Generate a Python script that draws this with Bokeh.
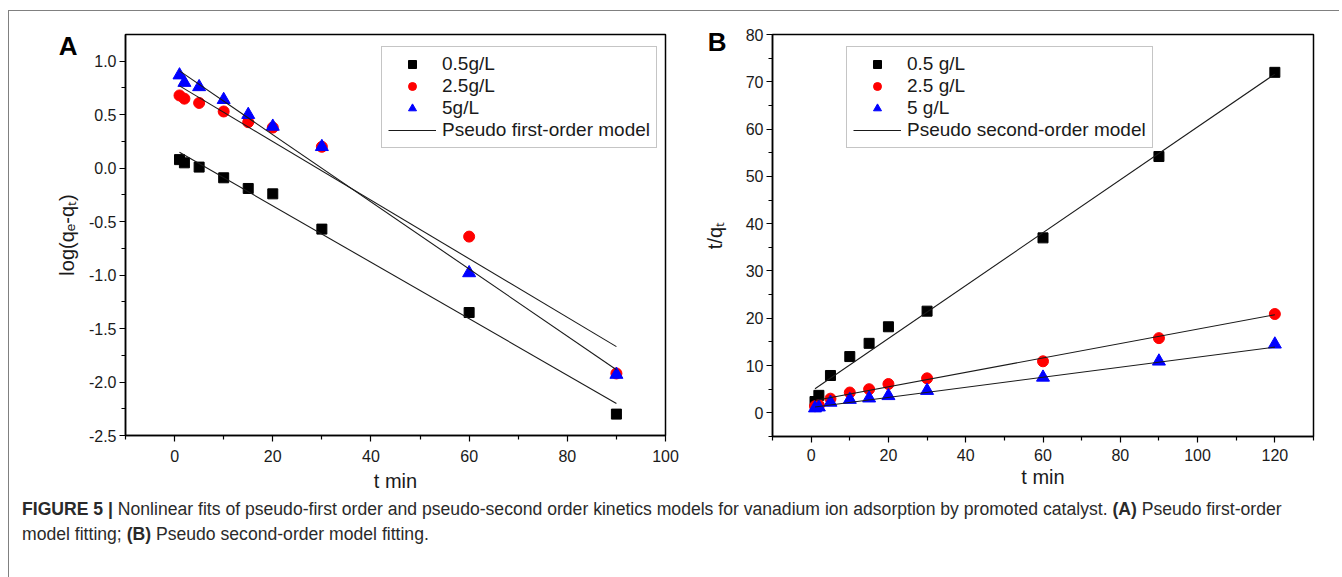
from bokeh.plotting import figure
from bokeh.models import (FixedTicker, Legend, LegendItem, Div, LinearAxis,
                          NumeralTickFormatter, CustomJSTickFormatter)
from bokeh.layouts import column, row
from bokeh.embed import file_html
from bokeh.resources import INLINE

# ---------------- data ----------------
t_a = [1, 2, 5, 10, 15, 20, 30, 60, 90]
a_05 = [0.08, 0.05, 0.01, -0.09, -0.19, -0.24, -0.57, -1.35, -2.30]
a_25 = [0.68, 0.65, 0.61, 0.53, 0.43, 0.38, 0.20, -0.64, -1.92]
a_5 = [0.87, 0.80, 0.76, 0.64, 0.50, 0.39, 0.20, -0.98, -1.93]
# pseudo first-order linear fits (slope, intercept)
fit_a_05 = (-0.0264, 0.176)
fit_a_25 = (-0.0274, 0.797)
fit_a_5 = (-0.0314, 0.941)

t_b = [1, 2, 5, 10, 15, 20, 30, 60, 90, 120]
b_05 = [2.4, 3.7, 7.9, 11.9, 14.7, 18.2, 21.5, 37.0, 54.2, 72.0]
b_25 = [1.4, 1.6, 3.0, 4.3, 5.0, 6.1, 7.3, 10.9, 15.8, 20.9]
b_5 = [1.0, 1.2, 2.2, 2.8, 3.1, 3.6, 4.7, 7.5, 10.9, 14.5]
# pseudo second-order linear fits (slope, intercept)
fit_b_05 = (0.559, 4.55)
fit_b_25 = (0.1525, 2.45)
fit_b_5 = (0.1063, 1.14)

labels_a = ["0.5g/L", "2.5g/L", "5g/L", "Pseudo first-order model"]
labels_b = ["0.5 g/L", "2.5 g/L", "5 g/L", "Pseudo second-order model"]

xticks_a = [0, 20, 40, 60, 80, 100]
xminor_a = [-10, 10, 30, 50, 70, 90]
yticks_a = [-2.5, -2.0, -1.5, -1.0, -0.5, 0.0, 0.5, 1.0]
yminor_a = [-2.25, -1.75, -1.25, -0.75, -0.25, 0.25, 0.75]
xticks_b = [0, 20, 40, 60, 80, 100, 120]
xminor_b = [-10, 10, 30, 50, 70, 90, 110, 130]
yticks_b = [0, 10, 20, 30, 40, 50, 60, 70, 80]
yminor_b = [-5, 5, 15, 25, 35, 45, 55, 65, 75]

FONT = "Liberation Sans"
RED = "#ff0000"
BLUE = "#0000ff"


def fit_line(tt, fit):
    xs = [tt[0], tt[-1]]
    ys = [fit[0] * x + fit[1] for x in xs]
    return xs, ys


def style(p, xt, xm, yt, ym, xlabel, ylabel, ylab_standoff, xlab_std, xtick_std):
    p.outline_line_color = "black"
    p.outline_line_width = 1.5
    p.outline_line_alpha = 1
    p.grid.visible = False
    p.background_fill_color = "white"
    p.border_fill_color = "white"
    for ax in (p.xaxis[0], p.yaxis[0]):
        ax.axis_line_width = 1.5
        ax.axis_line_color = "black"
        ax.major_tick_line_color = "black"
        ax.minor_tick_line_color = "black"
        ax.major_tick_line_width = 1.2
        ax.minor_tick_line_width = 1.2
        ax.major_tick_out = 6
        ax.major_tick_in = 0
        ax.minor_tick_out = 4
        ax.minor_tick_in = 0
        ax.major_label_text_font = FONT
        ax.major_label_text_font_size = "16px"
        ax.major_label_text_color = "#1a1a1a"
        ax.axis_label_text_font = FONT
        ax.axis_label_text_font_size = "20px"
        ax.axis_label_text_font_style = "normal"
        ax.axis_label_text_color = "#1a1a1a"
    p.xaxis[0].ticker = FixedTicker(ticks=xt, minor_ticks=xm)
    p.yaxis[0].ticker = FixedTicker(ticks=yt, minor_ticks=ym)
    p.xaxis[0].major_label_standoff = xtick_std
    p.yaxis[0].major_label_standoff = 3
    p.xaxis[0].axis_label = xlabel
    p.yaxis[0].axis_label = ylabel
    p.xaxis[0].axis_label_standoff = xlab_std
    p.yaxis[0].axis_label_standoff = ylab_standoff


def panel_letter(p, letter, yval, standoff):
    # an outer, invisible axis carrying the bold panel letter as its only tick label
    ax = LinearAxis(ticker=FixedTicker(ticks=[yval], minor_ticks=[]),
                    formatter=CustomJSTickFormatter(code="return '%s';" % letter))
    ax.axis_line_alpha = 0
    ax.major_tick_line_alpha = 0
    ax.minor_tick_line_alpha = 0
    ax.major_tick_out = 0
    ax.major_tick_in = 0
    ax.minor_tick_out = 0
    ax.minor_tick_in = 0
    ax.major_label_standoff = standoff
    ax.major_label_text_font = FONT
    ax.major_label_text_font_size = "26px"
    ax.major_label_text_font_style = "bold"
    ax.major_label_text_color = "black"
    p.add_layout(ax, "left")


def make_legend(p, renderers, labels, loc):
    items = [LegendItem(label=l, renderers=[r]) for l, r in zip(labels, renderers)]
    lg = Legend(items=items, location=loc)
    lg.label_text_font = FONT
    lg.label_text_font_size = "19px"
    lg.label_text_color = "#1a1a1a"
    lg.border_line_color = "#8c8c8c"
    lg.border_line_width = 1.2
    lg.background_fill_color = "white"
    lg.background_fill_alpha = 1
    lg.padding = 6
    lg.spacing = 0
    lg.label_height = 20
    lg.glyph_height = 20
    lg.glyph_width = 48
    lg.label_standoff = 6
    lg.margin = 0
    p.add_layout(lg)


# ---------------- panel A ----------------
pA = figure(width=691, height=491, x_range=(-10, 100), y_range=(-2.5, 1.25),
            output_backend="svg", toolbar_location=None,
            min_border_left=116, min_border_right=35, min_border_top=22, min_border_bottom=67)
style(pA, xticks_a, xminor_a, yticks_a, yminor_a, "t min", "log(qₑ-qₜ)", 8, 5, 8)
pA.yaxis[0].formatter = NumeralTickFormatter(format="0.0")

rA1 = pA.scatter(t_a, a_05, marker="square", size=10, color="black")
rA2 = pA.scatter(t_a, a_25, marker="circle", size=11, color=RED)
rA3 = pA.scatter(t_a, a_5, marker="triangle", size=13, color=BLUE)
lines_a = []
for fit in (fit_a_05, fit_a_25, fit_a_5):
    xs, ys = fit_line(t_a, fit)
    lines_a.append(pA.line(xs, ys, line_color="#1a1a1a", line_width=1.1))
make_legend(pA, [rA1, rA2, rA3, lines_a[0]], labels_a, (256, 287))
panel_letter(pA, "A", 1.14, -25)

# ---------------- panel B ----------------
pB = figure(width=633, height=492, x_range=(-10, 130), y_range=(-5, 80),
            output_backend="svg", toolbar_location=None,
            min_border_left=72, min_border_right=20, min_border_top=23, min_border_bottom=61)
style(pB, xticks_b, xminor_b, yticks_b, yminor_b, "t min", "t/qₜ", 17, 2, 6)

rB1 = pB.scatter(t_b, b_05, marker="square", size=10, color="black")
rB2 = pB.scatter(t_b, b_25, marker="circle", size=11, color=RED)
rB3 = pB.scatter(t_b, b_5, marker="triangle", size=13, color=BLUE)
lines_b = []
for fit in (fit_b_05, fit_b_25, fit_b_5):
    xs, ys = fit_line(t_b, fit)
    lines_b.append(pB.line(xs, ys, line_color="#1a1a1a", line_width=1.1))
make_legend(pB, [rB1, rB2, rB3, lines_b[0]], labels_b, (74, 288))
panel_letter(pB, "B", 78.4, -26)

caption = Div(
    text=("<b>FIGURE 5 |</b> Nonlinear fits of pseudo-first order and pseudo-second order kinetics "
          "models for vanadium ion adsorption by promoted catalyst. <b>(A)</b> Pseudo first-order<br>"
          "model fitting; <b>(B)</b> Pseudo second-order model fitting."),
    width=1320, height=80,
    styles={"font-family": "Liberation Sans, Arial, sans-serif", "font-size": "17.6px",
            "line-height": "25px", "color": "#2a2a2a", "padding-left": "8px",
            "margin-top": "-6px"},
)

layout = column(row(pA, pB, spacing=0), caption, spacing=0,
                styles={"border-top": "1.5px solid #808080", "border-left": "1.5px solid #808080",
                        "margin-top": "10px", "margin-left": "8px"})

open("out.html", "w").write(file_html(layout, INLINE))
